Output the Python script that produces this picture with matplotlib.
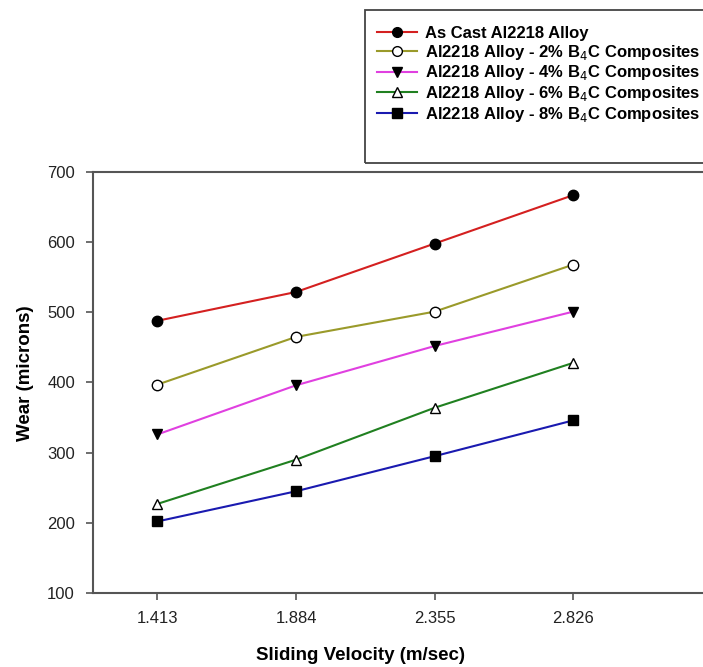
import numpy as np
import matplotlib.pyplot as plt
from matplotlib import rcParams
from matplotlib.patches import Rectangle

rcParams.update({'font.family': ['Liberation Sans', 'DejaVu Sans']})

# sliding velocity (m/sec)
velocity = [1.413, 1.884, 2.355, 2.826]
tick_labels = ['1.413', '1.884', '2.355', '2.826']

# wear (microns)
as_cast = [488, 529, 598, 667]
b4c_2 = [397, 465, 501, 568]
b4c_4 = [326, 396, 452, 501]
b4c_6 = [227, 290, 364, 428]
b4c_8 = [202, 245, 295, 346]

labels = ['As Cast Al2218 Alloy',
          'Al2218 Alloy - 2% B$_4$C Composites',
          'Al2218 Alloy - 4% B$_4$C Composites',
          'Al2218 Alloy - 6% B$_4$C Composites',
          'Al2218 Alloy - 8% B$_4$C Composites']

fig = plt.figure(figsize=(7.03, 6.67), dpi=100)
W, H = 703., 667.
axw = 703 - 93.
ax = fig.add_axes([93/W, 1-593/H, axw/W, (593-172)/H])

ax.plot(velocity, as_cast, color='#d42020', lw=1.5, marker='o', ms=7.5,
        mfc='black', mec='black', label=labels[0])
ax.plot(velocity, b4c_2, color='#9a9a2a', lw=1.5, marker='o', ms=7.5,
        mfc='white', mec='black', label=labels[1])
ax.plot(velocity, b4c_4, color='#e040e0', lw=1.5, marker='v', ms=7.5,
        mfc='black', mec='black', label=labels[2])
ax.plot(velocity, b4c_6, color='#208020', lw=1.5, marker='^', ms=7.5,
        mfc='white', mec='black', label=labels[3])
ax.plot(velocity, b4c_8, color='#1a1ab0', lw=1.5, marker='s', ms=6.5,
        mfc='black', mec='black', label=labels[4])

ax.set_xlim(1.194, 3.267)
ax.set_ylim(100, 700)
ax.set_xticks(velocity)
ax.set_xticklabels(tick_labels)
ax.set_yticks(np.arange(100, 701, 100))

for s in ['left', 'bottom', 'top']:
    ax.spines[s].set_color('#555555')
    ax.spines[s].set_linewidth(1.5)
ax.spines['right'].set_visible(False)
ax.tick_params(direction='out', length=5, width=1.2, color='#555555',
               labelsize=12, labelcolor='#222222', pad=8)

ax.set_xlabel('Sliding Velocity (m/sec)', fontsize=13.5, fontweight='bold')
ax.xaxis.set_label_coords((360-93)/axw, -(655-593)/421.)
ax.xaxis.label.set_va('center')
ax.set_ylabel('Wear (microns)', fontsize=13.5, fontweight='bold')
ax.yaxis.set_label_coords((26-93)/axw, (593-373)/421.)
ax.yaxis.label.set_va('center')

leg = fig.legend(loc='upper left', bbox_to_anchor=(377/W, 1-26/H),
                 prop={'weight': 'bold', 'size': 12}, frameon=False,
                 borderaxespad=0, borderpad=0, handlelength=2.4,
                 labelspacing=0.1, handletextpad=0.5)
for h in leg.legend_handles:
    h.set_markersize(7)

# legend box (extra space at the bottom as in the original)
fig.patches.append(Rectangle((365/W, 1-163/H), (710-365)/W, (163-10)/H,
                             transform=fig.transFigure, fill=False,
                             edgecolor='#444444', lw=1.3))

fig.savefig('out.png', dpi=100)
